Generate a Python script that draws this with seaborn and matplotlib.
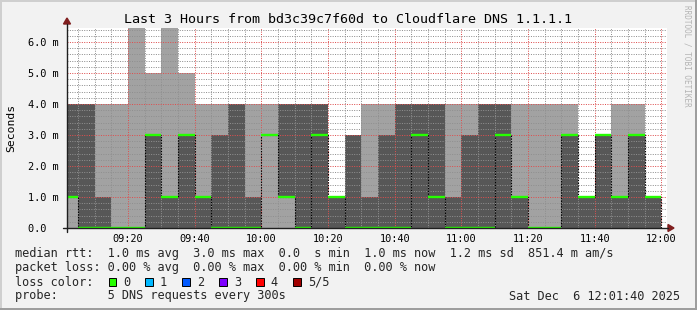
import numpy as np
import pandas as pd
import matplotlib
matplotlib.use("Agg")
import matplotlib.pyplot as plt
import matplotlib.dates as mdates
from matplotlib.patches import Rectangle, Polygon
from matplotlib.lines import Line2D
from matplotlib.ticker import FixedLocator, MultipleLocator, FixedFormatter
import seaborn as sns

# ---------------- data ----------------
title = "Last 3 Hours from bd3c39c7f60d to Cloudflare DNS 1.1.1.1"
day = "2025-12-06"
window_start = "09:01:40"
window_end = "12:01:40"
step_minutes = 5

# sorted ping results per 5-minute step (ms): ping1 (min) .. ping5 (max), ping3 = median
ping1 = [0, 0, 0, 0, 0, 0, 0, 0, 0, 0, 0, 0, 0, 0, 0, 0, 0, 0,
         0, 0, 0, 0, 0, 0, 0, 0, 0, 0, 0, 0, 0, 0, 0, 0, 0, 0]
ping2 = [1, 0, 0, 0, 0, 0, 0, 0, 0, 0, 0, 0, 3, 1, 0, 0, 0, 0,
         0, 0, 0, 0, 0, 0, 0, 0, 0, 0, 0, 0, 0, 0, 0, 0, 0, 0]
median = [1, 0, 0, 0, 0, 3, 1, 3, 1, 0, 0, 0, 3, 1, 0, 3, 1, 0,
          0, 0, 0, 3, 1, 0, 0, 0, 3, 1, 0, 0, 3, 1, 3, 1, 3, 1]
ping4 = [4, 4, 1, 0, 0, 3, 1, 3, 1, 3, 4, 1, 3, 4, 4, 4, 1, 3,
         1, 3, 4, 4, 4, 1, 3, 4, 4, 1, 0, 0, 3, 1, 3, 1, 3, 1]
ping5 = [4, 4, 4, 4, 7, 5, 7, 5, 4, 4, 4, 4, 4, 4, 4, 4, 1, 3,
         4, 4, 4, 4, 4, 4, 4, 4, 4, 4, 4, 4, 4, 1, 3, 4, 4, 1]

x_tick_labels = ["09:20", "09:40", "10:00", "10:20", "10:40",
                 "11:00", "11:20", "11:40", "12:00"]
y_tick_values = [0, 1, 2, 3, 4, 5, 6]
y_tick_labels = ["0.0  ", "1.0 m", "2.0 m", "3.0 m", "4.0 m", "5.0 m", "6.0 m"]
y_max = 6.45
y_label = "Seconds"

legend_rtt = "median rtt:  1.0 ms avg  3.0 ms max  0.0  s min  1.0 ms now  1.2 ms sd  851.4 m am/s"
legend_loss = "packet loss: 0.00 % avg  0.00 % max  0.00 % min  0.00 % now"
legend_color_title = "loss color:"
loss_labels = ["0", "1", "2", "3", "4", "5/5"]
loss_colors = ["#26ff00", "#00b8ff", "#0059ff", "#7e00ff", "#ff0000", "#a10000"]
legend_probe = "probe:       5 DNS requests every 300s"
timestamp = "Sat Dec  6 12:01:40 2025"
watermark = "RRDTOOL / TOBI OETIKER"

# ---------------- style ----------------
sns.set_style("white")
plt.rcParams["font.family"] = ["DejaVu Sans Mono"]
plt.rcParams["lines.scale_dashes"] = False

W, H = 697, 310
BG = "#f2f2f2"
fig = plt.figure(figsize=(W / 100, H / 100), dpi=100, facecolor=BG)


def P(x, y):
    return (x / W, 1 - y / H)


L, R, T, B = 67, 667, 28, 228
ax = fig.add_axes([L / W, 1 - B / H, (R - L) / W, (B - T) / H])
ax.set_facecolor("white")

# time axis
t0 = pd.Timestamp(f"{day} {window_start}")
t1 = pd.Timestamp(f"{day} {window_end}")
inner = pd.date_range(t0.ceil(f"{step_minutes}min"), periods=len(median),
                      freq=f"{step_minutes}min")
edges = mdates.date2num([t0] + list(inner))
left = edges[:-1]
widths = np.diff(edges)

p1 = np.array(ping1, float)
p2 = np.array(ping2, float)
p4 = np.array(ping4, float)
p5 = np.array(ping5, float)
med = np.array(median, float)

# smoke: outer pair light, inner pair dark
ax.bar(left, p5 - p1, width=widths, bottom=p1, align="edge",
       color="#a2a2a2", linewidth=0, antialiased=False, zorder=1)
ax.bar(left, p4 - p2, width=widths, bottom=p2, align="edge",
       color="#575757", linewidth=0, antialiased=False, zorder=1.1)

# median: dotted step connectors + green (0 loss) segments
step_x = np.append(left, edges[-1])
step_y = np.append(med, med[-1])
sns.lineplot(x=step_x, y=step_y, ax=ax, drawstyle="steps-post", color="black",
             lw=0.8, linestyle=(0, (1, 1)), zorder=3, estimator=None, sort=False)
ax.vlines(edges[-1], 0, med[-1], color="black", lw=0.8, linestyle=(0, (1, 1)), zorder=3)
ax.hlines(med, left, edges[1:], color=loss_colors[0], lw=1.7, zorder=4)

ax.set_xlim(mdates.date2num(t0), mdates.date2num(t1))
ax.set_ylim(0, y_max)

# ticks & grid
major_x = mdates.date2num([pd.Timestamp(f"{day} {s}") for s in x_tick_labels])
ax.xaxis.set_major_locator(FixedLocator(major_x))
ax.xaxis.set_major_formatter(FixedFormatter(x_tick_labels))
ax.xaxis.set_minor_locator(FixedLocator(edges[1:]))
ax.yaxis.set_major_locator(FixedLocator(y_tick_values))
ax.yaxis.set_major_formatter(FixedFormatter(y_tick_labels))
ax.yaxis.set_minor_locator(MultipleLocator(0.2))

ax.set_axisbelow(False)
ax.grid(which="minor", color=(0.56, 0.56, 0.56, 0.24), lw=0.72, linestyle=(0, (0.72, 1.0)))
ax.grid(which="major", color=(0.87, 0.31, 0.31, 0.4), lw=0.72, linestyle=(0, (0.72, 1.0)))

ax.tick_params(which="both", direction="inout", color="#1f1f1f", width=0.7,
               labelsize=7.4, labelcolor="black")
ax.tick_params(which="major", length=4)
ax.tick_params(which="minor", length=2)
ax.tick_params(axis="x", pad=2.5)
ax.tick_params(axis="y", pad=4)
for s in ax.spines.values():
    s.set_visible(False)

# axes lines with arrows
axis_col = "#1f1f1f"
arrow_col = "#801f1f"
fig.add_artist(Line2D([P(63, B)[0], P(668, B)[0]], [P(63, B)[1], P(668, B)[1]],
                      color=axis_col, lw=1.0))
fig.add_artist(Line2D([P(L, 232)[0], P(L, 24)[0]], [P(L, 232)[1], P(L, 24)[1]],
                      color=axis_col, lw=1.0))
fig.add_artist(Polygon([P(668, B - 3.5), P(668, B + 3.5), P(674, B)],
                       closed=True, color=arrow_col, transform=fig.transFigure))
fig.add_artist(Polygon([P(L - 3.5, 24), P(L + 3.5, 24), P(L, 18)],
                       closed=True, color=arrow_col, transform=fig.transFigure))

# texts
fig.text(*P(348, 19.5), title, ha="center", va="center", fontsize=9.6, color="black")
fig.text(*P(11, 128), y_label, ha="center", va="center", rotation=90,
         fontsize=8.2, color="black")
fig.text(*P(687, 5), watermark, ha="center", va="top", rotation=270,
         fontsize=5.5, color="#b4b4b4")

LX = 15
fs = 8.6
fig.text(*P(LX, 254), legend_rtt, ha="left", va="center", fontsize=fs)
fig.text(*P(LX, 268), legend_loss, ha="left", va="center", fontsize=fs)
fig.text(*P(LX, 282), legend_color_title, ha="left", va="center", fontsize=fs)
for i, (lab, col) in enumerate(zip(loss_labels, loss_colors)):
    bx = 108.5 + i * 36.95
    fig.add_artist(Rectangle(P(bx, 286), 7.5 / W, 8.5 / H, transform=fig.transFigure,
                             facecolor=col, edgecolor="black", lw=0.7))
    fig.text(*P(bx + 14.5, 282), lab, ha="left", va="center", fontsize=fs)
fig.text(*P(LX, 296), legend_probe, ha="left", va="center", fontsize=fs)
fig.text(*P(680, 296), timestamp, ha="right", va="center", fontsize=fs)

# frame shading
fig.add_artist(Rectangle((0, 1 - 2 / H), 1, 2 / H, transform=fig.transFigure,
                         color="#cfcfcf", lw=0))
fig.add_artist(Rectangle((0, 0), 2 / W, 1, transform=fig.transFigure,
                         color="#cfcfcf", lw=0))
fig.add_artist(Rectangle((1 - 2 / W, 0), 2 / W, 1, transform=fig.transFigure,
                         color="#9e9e9e", lw=0))
fig.add_artist(Rectangle((0, 0), 1, 2 / H, transform=fig.transFigure,
                         color="#9e9e9e", lw=0))

fig.savefig("out.png", dpi=100, facecolor=BG)
